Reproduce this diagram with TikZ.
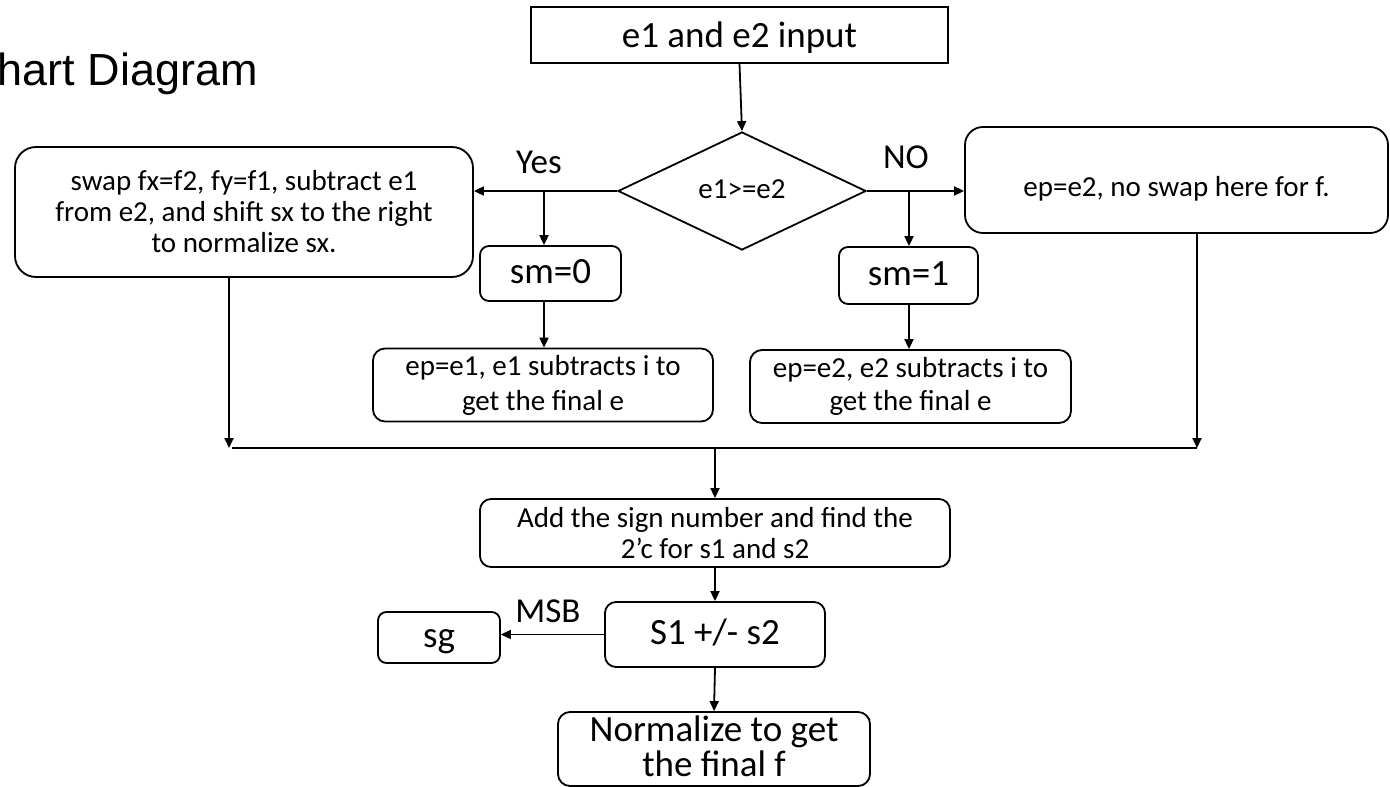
\documentclass[tikz,border=0pt]{standalone}
\usepackage{fontspec}
\setmainfont{Carlito}
\newfontfamily\headfont{Liberation Sans}
\usetikzlibrary{arrows.meta,shapes.geometric}

\begin{document}
\begin{tikzpicture}[x=1pt,y=-1pt,
  every node/.style={inner sep=0pt},
  box/.style={draw, line width=1.8pt, align=center},
  rbox/.style={box, rounded corners=#1},
  rbox/.default=11pt,
  bigline/.style={text height=28pt, text depth=9pt},
  smallline/.style={text height=22pt, text depth=7pt},
  small/.style={font=\fontsize{29}{31}\selectfont},
  big/.style={font=\fontsize{37}{41}\selectfont},
  lbl/.style={font=\fontsize{35}{38}\selectfont},
  line/.style={line width=1.8pt},
  arr/.style={line, -{Triangle[width=9pt,length=10pt]}}]
\useasboundingbox (0,0) rectangle (1390,787);

% heading
\node[anchor=base east, font=\headfont\fontsize{45}{50}\selectfont] (title) at (258,85) {hart Diagram};

% top of the chart
\node[box, big, text height=32pt, text depth=8pt, minimum width=417pt, minimum height=56pt] (inp) at (739.5,35) {e1 and e2 input};
\node[draw, diamond, line width=1.8pt, aspect=2.1, minimum width=248pt, minimum height=118pt, small, smallline] (dec) at (742,191) {e1>=e2};

% Yes branch
\node[rbox=21pt, small, minimum width=458pt, minimum height=130pt] (swap) at (244,212)
  {swap fx=f2, fy=f1, subtract e1\\from e2, and shift sx to the right\\to normalize sx.};
\node[rbox=9pt, big, bigline, minimum width=141pt, minimum height=55pt] (sm0) at (550.5,273.5) {sm=0};
\node[rbox=12pt, minimum width=340pt, minimum height=73pt, font=\fontsize{29}{35}\selectfont] (ep1) at (543,385)
  {ep=e1, e1 subtracts i to\\get the final e};

% NO branch
\node[rbox=18pt, small, text height=34pt, text depth=2pt, minimum width=423pt, minimum height=106pt] (keep) at (1176.5,180) {ep=e2, no swap here for f.};
\node[rbox=9pt, big, bigline, minimum width=139pt, minimum height=57pt] (sm1) at (908.5,275.5) {sm=1};
\node[rbox=12pt, minimum width=321pt, minimum height=73pt, font=\fontsize{29}{33}\selectfont] (ep2) at (910.5,386.5)
  {ep=e2, e2 subtracts i to\\get the final e};

% lower part
\node[rbox, small, minimum width=470pt, minimum height=68pt] (add) at (715,533)
  {Add the sign number and find the\\2’c for s1 and s2};
\node[rbox, big, bigline, minimum width=220pt, minimum height=65pt] (s1) at (715,634.5) {S1 +/- s2};
\node[rbox=8.5pt, big, bigline, minimum width=122pt, minimum height=51pt] (sg) at (439,637.5) {sg};
\node[rbox=12pt, minimum width=312pt, minimum height=74pt] (norm) at (714,749) {};
\node[align=center, font=\fontsize{37}{35}\selectfont] (normtext) at (714,746)
  {Normalize to get\\the final f};

% branch and junction points
\coordinate (ybr) at (544,191);
\coordinate (nbr) at (909,191);
\coordinate (lj) at (229,448);
\coordinate (rj) at (1197,448);
\coordinate (mj) at (715,448);

% connectors
\draw[arr] (inp.south) -- (dec.north);
\draw[arr] (dec.west) -- (dec.west -| swap.east);
\draw[arr] (ybr) -- (ybr |- sm0.north);
\draw[arr] (sm0.south -| ybr) -- (ep1.north -| ybr);
\draw[arr] (dec.east) -- (dec.east -| keep.west);
\draw[arr] (nbr) -- (nbr |- sm1.north);
\draw[arr] (sm1.south -| nbr) -- (ep2.north -| nbr);
\draw[arr] (swap.south -| lj) -- (lj);
\draw[arr] (keep.south -| rj) -- (rj);
\draw[line] ([xshift=3pt]lj) -- (rj);
\draw[arr] (mj) -- (add.north);
\draw[arr] (add.south) -- (s1.north);
\draw[arr] (s1.west) -- (s1.west -| sg.east);
\draw[arr] (s1.south) -- (norm.north);

% branch labels
\node[lbl, anchor=base] (yes) at (539,173) {Yes};
\node[lbl, anchor=base] (no) at (906,168) {NO};
\node[lbl, anchor=base] (msb) at (548,622) {MSB};
\end{tikzpicture}
\end{document}
